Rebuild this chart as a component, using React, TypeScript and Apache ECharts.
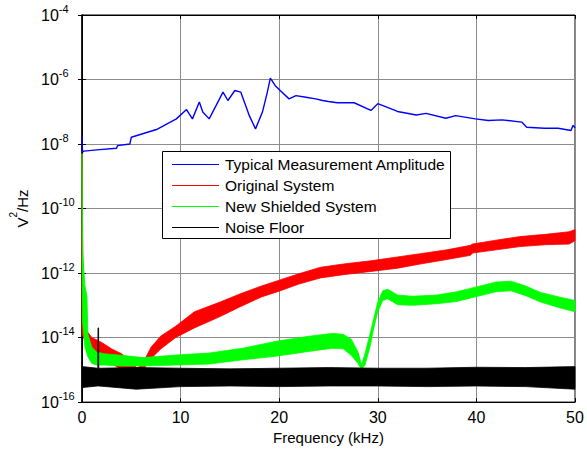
import React, { useEffect, useRef } from "react";
import * as echarts from "echarts";

// Frequency in kHz, values as log10(V^2/Hz)
const blueX = [0, 0.05, 0.2, 1.5, 3.5, 3.6, 4.85, 5.0, 7.55, 9.57, 10.6, 11.2, 11.9, 12.25, 12.9, 14.3, 14.8, 15.5, 16.1, 16.97, 17.6, 18.3, 18.8, 19.1, 19.6, 20.1, 21.0, 21.7, 22.7, 23.7, 24.4, 25.0, 25.9, 27.6, 29.3, 30.0, 32.0, 33.9, 34.9, 36.9, 37.9, 39.9, 41.2, 42.6, 44.6, 45.1, 46.9, 48.3, 49.6, 49.8, 50];
const blueExp = [-7.75, -8.25, -8.22, -8.18, -8.13, -8.05, -8.0, -7.79, -7.55, -7.22, -6.93, -7.22, -6.7, -7.01, -7.22, -6.39, -6.65, -6.34, -6.39, -7.12, -7.53, -7.01, -6.39, -5.96, -6.19, -6.34, -6.6, -6.5, -6.55, -6.6, -6.65, -6.68, -6.72, -6.72, -6.96, -6.75, -6.99, -7.1, -7.05, -7.2, -7.12, -7.22, -7.27, -7.25, -7.32, -7.48, -7.51, -7.51, -7.58, -7.42, -7.5];

const redX = [0, 0.15, 0.5, 1.0, 2.0, 3.0, 4.0, 5.0, 5.6, 6.0, 6.5, 7.0, 8.0, 9.5, 11.4, 14.0, 16.0, 18.2, 20.0, 22.0, 24.2, 26.5, 29.3, 32.0, 34.3, 37.0, 39.4, 39.6, 42.0, 44.4, 47.0, 49.4, 50.0];
const redHi = [-8.3, -13.6, -13.8, -14.0, -14.15, -14.35, -14.5, -14.75, -14.95, -14.85, -14.6, -14.3, -13.95, -13.65, -13.2, -12.9, -12.65, -12.4, -12.22, -12.02, -11.82, -11.72, -11.62, -11.5, -11.4, -11.28, -11.14, -11.1, -10.98, -10.87, -10.8, -10.72, -10.65];
const redLo = [-13.9, -14.0, -14.2, -14.4, -14.6, -14.8, -15.0, -15.4, -15.55, -15.2, -14.85, -14.65, -14.35, -14.0, -13.7, -13.35, -13.05, -12.74, -12.56, -12.34, -12.15, -12.05, -11.95, -11.85, -11.72, -11.58, -11.45, -11.38, -11.28, -11.18, -11.12, -11.1, -11.0];

const greenX = [0, 0.05, 0.3, 0.5, 0.6, 1.0, 1.5, 2.2, 4.0, 6.2, 9.6, 12.9, 16.3, 19.6, 23.0, 25.4, 26.5, 27.3, 28.0, 28.35, 28.7, 29.2, 29.6, 30.0, 30.5, 31.0, 32.0, 33.5, 36.0, 38.0, 40.0, 42.0, 43.5, 45.0, 46.5, 48.5, 50.0];
const greenHi = [-8.3, -11.3, -12.4, -12.7, -13.9, -14.3, -14.45, -14.5, -14.55, -14.62, -14.54, -14.48, -14.33, -14.12, -13.96, -13.87, -13.9, -14.05, -14.45, -14.85, -14.5, -13.9, -13.4, -12.9, -12.55, -12.5, -12.68, -12.72, -12.68, -12.58, -12.43, -12.28, -12.25, -12.4, -12.6, -12.75, -12.85];
const greenLo = [-11.5, -13.5, -14.3, -14.5, -14.6, -14.8, -14.85, -14.85, -14.88, -14.88, -14.85, -14.82, -14.69, -14.58, -14.43, -14.33, -14.35, -14.55, -14.8, -15.0, -14.85, -14.3, -13.7, -13.2, -12.85, -12.8, -12.98, -13.0, -12.95, -12.88, -12.73, -12.58, -12.55, -12.7, -12.9, -13.08, -13.2];

const blackX = [0, 1.6, 1.62, 1.68, 1.7, 5.5, 10, 15, 20, 25, 30, 35, 40, 45, 50];
const blackHi = [-14.9, -14.95, -13.7, -13.7, -14.95, -14.93, -14.95, -14.97, -14.95, -14.93, -14.95, -14.95, -14.92, -14.93, -14.9];
const blackLo = [-15.55, -15.5, -15.5, -15.5, -15.5, -15.6, -15.52, -15.5, -15.52, -15.5, -15.5, -15.52, -15.5, -15.52, -15.6];

const xTicks = [0, 10, 20, 30, 40, 50];
const legendNames = ["Typical Measurement Amplitude", "Original System", "New Shielded System", "Noise Floor"];
const colors = ["#0000ff", "#ff0000", "#00ff00", "#000000"];

const FONT = "Arial, 'Liberation Sans', sans-serif";

function bandSeries(name: string, color: string, xs: number[], hi: number[], lo: number[]) {
  return {
    name,
    type: "custom",
    xAxisIndex: 0,
    yAxisIndex: 0,
    clip: false,
    silent: true,
    emphasis: { disabled: true },
    data: [[xs[0], Math.pow(10, hi[0])]],
    renderItem: (_params: any, api: any) => {
      const pts: number[][] = [];
      for (let i = 0; i < xs.length; i++) pts.push(api.coord([xs[i], Math.pow(10, hi[i])]));
      for (let i = xs.length - 1; i >= 0; i--) pts.push(api.coord([xs[i], Math.pow(10, lo[i])]));
      return {
        type: "polygon",
        silent: true,
        shape: { points: pts },
        style: { fill: color, stroke: color, lineWidth: 0.8 },
      };
    },
  };
}

// legend box (MATLAB style), drawn as graphic elements
function legendGraphic() {
  const L = 162;
  const T = 151;
  const els: any[] = [
    { type: "rect", z: 100, silent: true, shape: { x: L + 0.5, y: T + 0.5, width: 288, height: 87 }, style: { fill: "#fff", stroke: "#000", lineWidth: 1 } },
  ];
  legendNames.forEach((n, i) => {
    const cy = T + 13 + 21 * i;
    els.push({ type: "rect", z: 101, silent: true, shape: { x: L + 10, y: cy, width: 47, height: 1 }, style: { fill: colors[i] } });
    els.push({
      type: "text",
      z: 101,
      silent: true,
      style: { text: n, x: L + 63, y: cy, fill: "#000", fontSize: 15.5, fontFamily: FONT, verticalAlign: "middle", align: "left" },
    });
  });
  return els;
}

export default function App() {
  const ref = useRef<HTMLDivElement>(null);
  useEffect(() => {
    if (!ref.current) return;
    const chart = echarts.init(ref.current, undefined, { renderer: "svg" });
    const yLabel = (v: number) => {
      const e = Math.round(Math.log10(v));
      return `{b|10}{e|${e}}`;
    };
    const gridLine = { show: true, lineStyle: { color: "#8c8c8c", width: 1 } };
    chart.setOption({
      animation: false,
      backgroundColor: "#ffffff",
      grid: { left: 81, right: 12, top: 15, bottom: 46, show: true, borderColor: "#000", borderWidth: 1, backgroundColor: "transparent" },
      graphic: legendGraphic(),
      xAxis: [
        {
          type: "value",
          min: xTicks[0],
          max: xTicks[xTicks.length - 1],
          interval: 10,
          name: "Frequency (kHz)",
          nameLocation: "middle",
          nameGap: 26,
          nameTextStyle: { fontFamily: FONT, fontSize: 15, color: "#000" },
          axisLine: { show: true, lineStyle: { color: "#000", width: 1 } },
          axisTick: { show: true, inside: true, length: 4, lineStyle: { color: "#000" } },
          axisLabel: { fontFamily: FONT, fontSize: 16, color: "#000", margin: 7 },
          splitLine: gridLine,
        },
        {
          type: "value",
          position: "top",
          min: xTicks[0],
          max: xTicks[xTicks.length - 1],
          interval: 10,
          axisLine: { show: true, lineStyle: { color: "#000" } },
          axisTick: { show: true, inside: true, length: 4, lineStyle: { color: "#000" } },
          axisLabel: { show: false },
          splitLine: { show: false },
        },
      ],
      yAxis: [
        {
          type: "log",
          logBase: 10,
          min: 1e-16,
          max: 1e-4,
          interval: 2,
          name: "{a|V}{s|2}{a|/Hz}",
          nameLocation: "middle",
          nameGap: 52,
          nameRotate: 90,
          nameTextStyle: {
            fontFamily: FONT,
            color: "#000",
            rich: {
              a: { fontFamily: FONT, fontSize: 15, color: "#000", lineHeight: 22, verticalAlign: "bottom" },
              s: { fontFamily: FONT, fontSize: 10, color: "#000", lineHeight: 12, verticalAlign: "top" },
            },
          },
          axisLine: { show: true, lineStyle: { color: "#000", width: 1.5 } },
          axisTick: { show: true, inside: true, length: 4, lineStyle: { color: "#000" } },
          minorTick: { show: false },
          axisLabel: {
            formatter: yLabel,
            align: "left",
            margin: 41,
            rich: {
              b: { fontFamily: FONT, fontSize: 16, color: "#000", lineHeight: 24, verticalAlign: "middle" },
              e: { fontFamily: FONT, fontSize: 11, color: "#000", lineHeight: 9, verticalAlign: "top" },
            },
          },
          splitLine: gridLine,
        },
        {
          type: "log",
          logBase: 10,
          position: "right",
          min: 1e-16,
          max: 1e-4,
          interval: 2,
          axisLine: { show: true, lineStyle: { color: "#000" } },
          axisTick: { show: true, inside: true, length: 4, lineStyle: { color: "#000" } },
          axisLabel: { show: false },
          splitLine: { show: false },
        },
      ],
      series: [
        {
          name: legendNames[0],
          type: "line",
          xAxisIndex: 0,
          yAxisIndex: 0,
          showSymbol: false,
          symbol: "none",
          silent: true,
          emphasis: { disabled: true },
          itemStyle: { color: colors[0] },
          lineStyle: { color: colors[0], width: 1.4 },
          data: blueX.map((x, i) => [x, Math.pow(10, blueExp[i])]),
        },
        bandSeries(legendNames[1], colors[1], redX, redHi, redLo),
        bandSeries(legendNames[2], colors[2], greenX, greenHi, greenLo),
        bandSeries(legendNames[3], colors[3], blackX, blackHi, blackLo),
      ],
    });
    return () => chart.dispose();
  }, []);
  return <div ref={ref} style={{ position: "absolute", left: 0, top: 0, width: 587, height: 450 }} />;
}
